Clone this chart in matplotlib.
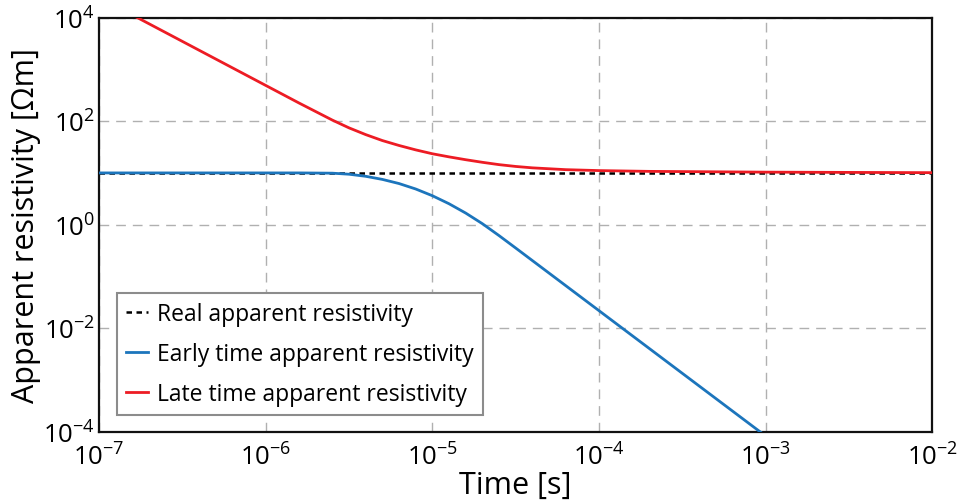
import matplotlib
matplotlib.use("Agg")
import matplotlib.pyplot as plt
from matplotlib.ticker import FixedLocator, FuncFormatter, NullLocator
import numpy as np

# Data (log10 of time in s, log10 of resistivity in Ohm m)
logt_real = [-7, -6, -5, -4, -3, -2]
logrho_real = [1, 1, 1, 1, 1, 1]

logt_early = [-7.0, -6.5, -6.0, -5.8, -5.6, -5.5, -5.4, -5.3, -5.2, -5.1, -5.0, -4.9,
              -4.8, -4.7, -4.6, -4.5, -4.4, -4.2, -4.0, -3.8, -3.5, -3.25, -3.0]
logrho_early = [1.0, 1.0, 1.0, 1.0, 0.995, 0.975, 0.935, 0.875, 0.795, 0.69, 0.56, 0.405,
                0.225, 0.02, -0.21, -0.45, -0.692, -1.176, -1.66, -2.144, -2.87, -3.475, -4.08]

logt_late = [-6.8, -6.6, -6.4, -6.2, -6.0, -5.8, -5.6, -5.5, -5.4, -5.3, -5.2, -5.1,
             -5.0, -4.9, -4.8, -4.7, -4.6, -4.5, -4.4, -4.2, -4.0, -3.7, -3.0, -2.0]
logrho_late = [4.05, 3.71, 3.37, 3.03, 2.69, 2.35, 2.02, 1.87, 1.74, 1.625, 1.53, 1.445,
               1.37, 1.31, 1.255, 1.205, 1.16, 1.125, 1.098, 1.063, 1.045, 1.03, 1.015, 1.005]

t_real = 10.0 ** np.array(logt_real)
rho_real = 10.0 ** np.array(logrho_real)
t_early = 10.0 ** np.array(logt_early)
rho_early = 10.0 ** np.array(logrho_early)
t_late = 10.0 ** np.array(logt_late)
rho_late = 10.0 ** np.array(logrho_late)

xticks = [1e-7, 1e-6, 1e-5, 1e-4, 1e-3, 1e-2]
yticks = [1e-4, 1e-2, 1e0, 1e2, 1e4]

plt.rcParams['font.family'] = ['Open Sans', 'DejaVu Sans']
plt.rcParams['mathtext.fontset'] = 'custom'
plt.rcParams['mathtext.rm'] = 'Open Sans'
plt.rcParams['mathtext.it'] = 'Open Sans:italic'
plt.rcParams['mathtext.bf'] = 'Open Sans:bold'

fig = plt.figure(figsize=(9.7, 5.02), dpi=100)
ax = fig.add_axes([0.102, 0.1376, 0.8593, 0.8255])

ax.plot(t_real, rho_real, color='black', linestyle=(0, (2.2, 1.8)), lw=1.8,
        label='Real apparent resistivity', zorder=2)
ax.plot(t_early, rho_early, color='#1c75bc', lw=2.0,
        label='Early time apparent resistivity', zorder=3)
ax.plot(t_late, rho_late, color='#ed1c24', lw=2.0,
        label='Late time apparent resistivity', zorder=4)

ax.set_xscale('log')
ax.set_yscale('log')
ax.set_xlim(1e-7, 1e-2)
ax.set_ylim(1e-4, 1e4)

ax.xaxis.set_major_locator(FixedLocator(xticks))
ax.yaxis.set_major_locator(FixedLocator(yticks))
ax.xaxis.set_minor_locator(NullLocator())
ax.yaxis.set_minor_locator(NullLocator())

def fmt(v, pos):
    e = int(round(np.log10(v)))
    return r'$\mathregular{10^{%d}}$' % e

ax.xaxis.set_major_formatter(FuncFormatter(fmt))
ax.yaxis.set_major_formatter(FuncFormatter(fmt))
ax.tick_params(axis='both', which='both', length=0, labelsize=18.5)
ax.tick_params(axis='x', pad=8)
ax.tick_params(axis='y', pad=3)

ax.grid(True, which='major', color='#b0b0b0', linestyle=(0, (7, 5)), lw=1.0)
for s in ax.spines.values():
    s.set_linewidth(1.6)
    s.set_color('#111111')

ax.set_xlabel('Time [s]', fontsize=22, labelpad=0)
ax.set_ylabel('Apparent resistivity [Ωm]', fontsize=22, labelpad=1)

leg = ax.legend(loc='lower left', bbox_to_anchor=(0.0217, 0.0408), borderaxespad=0,
                fontsize=16.5, handlelength=0.95, handletextpad=0.4, borderpad=0.4,
                labelspacing=0.7, fancybox=False, framealpha=1.0,
                edgecolor='#8c8c8c')
leg.get_frame().set_linewidth(1.5)

fig.savefig('out.png', dpi=100)
